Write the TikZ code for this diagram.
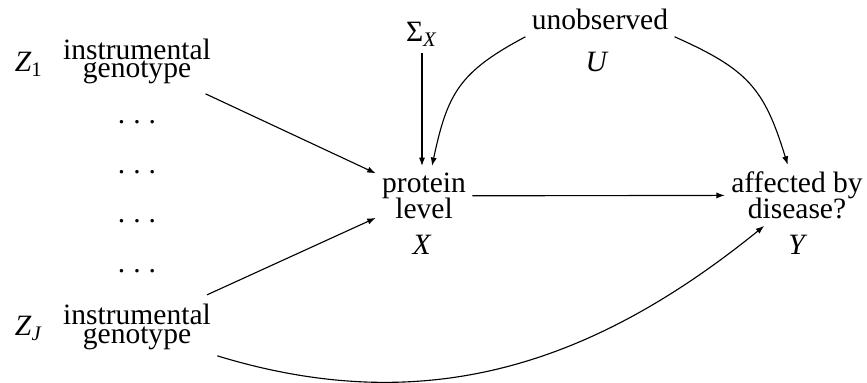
\documentclass[tikz,border=0pt]{standalone}
\usepackage{fontspec}
\setmainfont{Liberation Serif}
\usetikzlibrary{arrows.meta}
\setlength{\lineskiplimit}{-10pt}
\newcommand{\dotrow}{.\hspace{0.27em}.\hspace{0.27em}.}
\begin{document}
\begin{tikzpicture}[
		x=0.0125cm, y=-0.0125cm,
		font=\fontsize{10.5pt}{12pt}\selectfont,
		lbl/.style={inner sep=2.1pt, anchor=base},
		desc/.style={align=center, inner sep=2.1pt, anchor=base},
		tight/.style={font=\fontsize{10.5pt}{6.5pt}\selectfont},
		loose/.style={font=\fontsize{10.5pt}{9.6pt}\selectfont},
		arr/.style={-{Latex[length=3pt,width=2.2pt]}, line width=0.4pt}
	]
	\useasboundingbox (0,0) rectangle (867,383);
	\node[lbl] (z1) at (29,72) {\textit{Z}\textsubscript{1}};
	\node[desc, tight] (geno1) at (137,78) {instrumental\\genotype};
	\node[lbl] (dots1) at (137,123.5) {\dotrow};
	\node[lbl] (dots2) at (137,173.5) {\dotrow};
	\node[lbl] (dots3) at (137,222.5) {\dotrow};
	\node[lbl] (dots4) at (137,272.5) {\dotrow};
	\node[lbl] (zJ) at (29,336) {\textit{Z}\textsubscript{\textit{J}}};
	\node[desc, tight] (genoJ) at (137,343) {instrumental\\genotype};
	\node[lbl] (sigma) at (422,42) {Σ\textsubscript{\textit{X}}};
	\node[lbl] (unobs) at (600,30) {unobserved};
	\node[lbl] (u) at (597,72) {\textit{U}};
	\node[desc, loose] (prot) at (424,219) {protein\\level};
	\node[lbl] (x) at (422,255) {\textit{X}};
	\node[desc, loose] (aff) at (797,219) {affected by\\disease?};
	\node[lbl] (y) at (798,255) {\textit{Y}};
	\draw[arr, shorten <=2.5pt] (geno1) -- (prot);
	\draw[arr, shorten <=2.5pt] (genoJ) -- (prot);
	\draw[arr] (sigma) -- (sigma |- prot.north);
	\draw[arr] (unobs.south west) to[out=208, in=78, looseness=1.2] (prot.75);
	\draw[arr] (unobs.south east) to[out=-24, in=107, looseness=1.2] (aff.107);
	\draw[arr] (prot) -- (aff);
	\draw[arr] (genoJ.south east) to[out=-17, in=219] (aff.223);
\end{tikzpicture}
\end{document}
